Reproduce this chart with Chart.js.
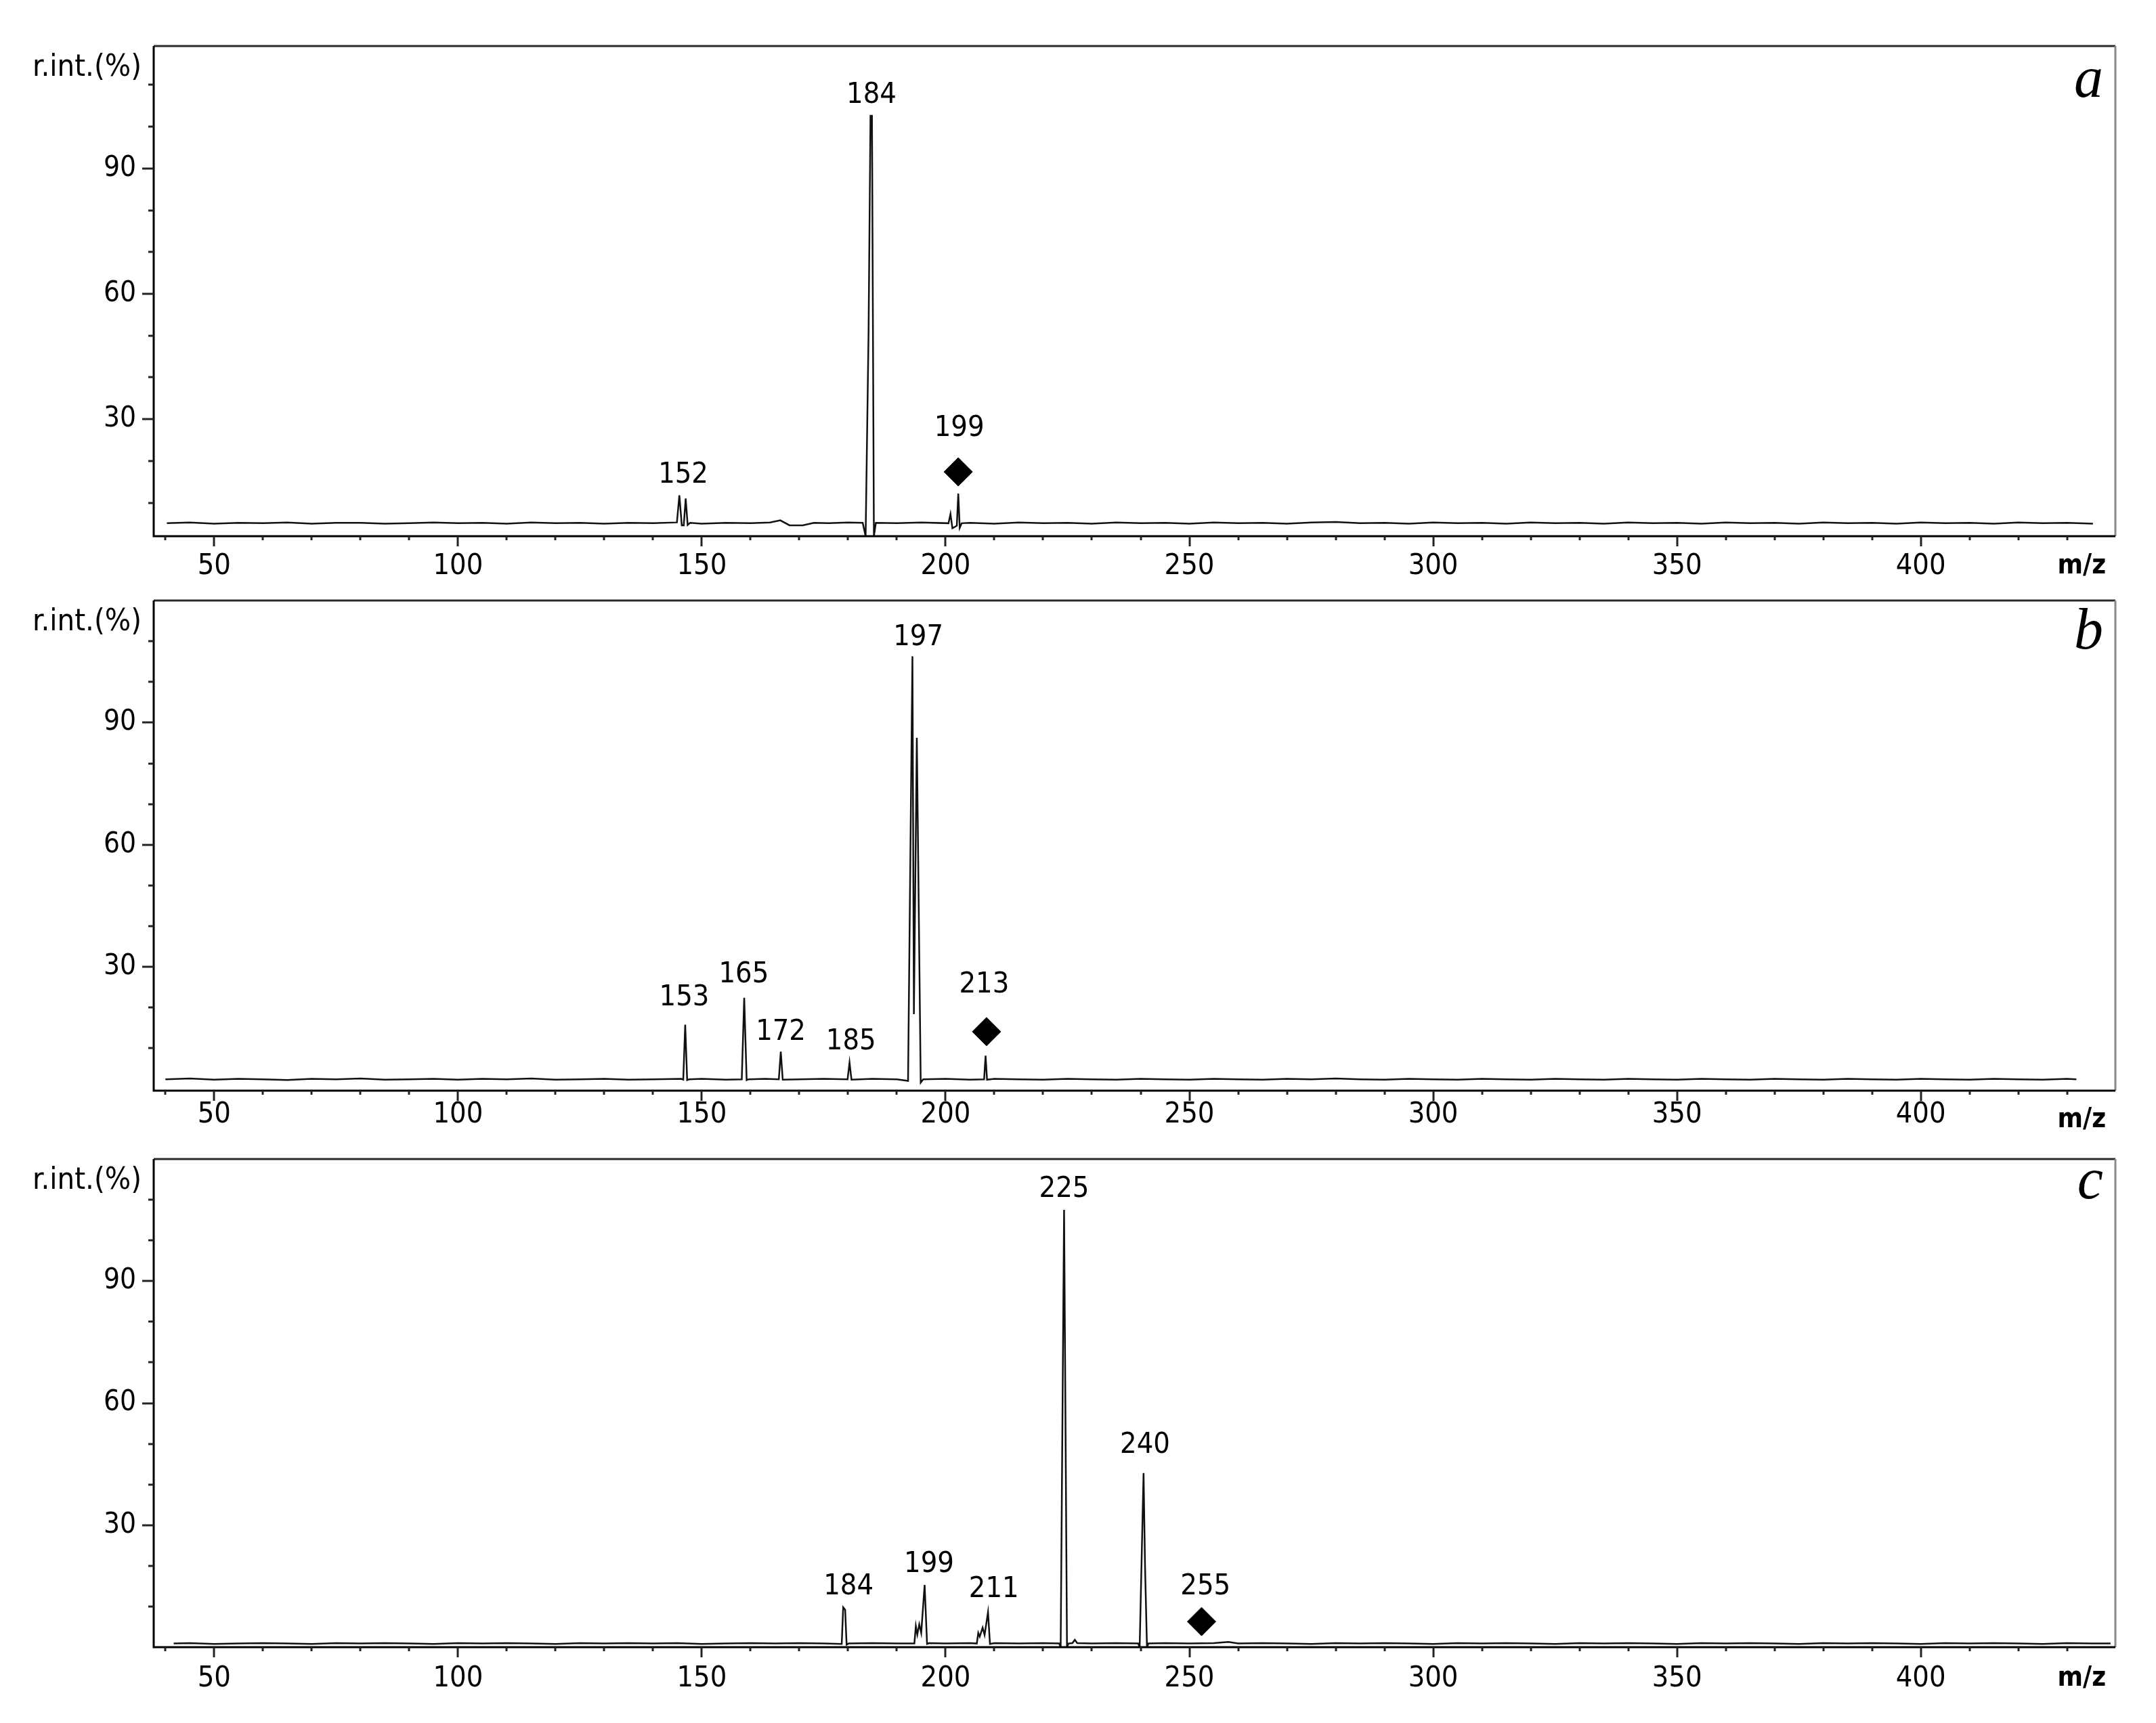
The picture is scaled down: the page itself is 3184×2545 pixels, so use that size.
<!DOCTYPE html>
<html>
<head>
<meta charset="utf-8">
<script src="https://cdn.jsdelivr.net/npm/chart.js@4.4.0/dist/chart.umd.min.js"></script>
<style>
html, body { margin: 0; padding: 0; background: #fff; }
#wrap { position: relative; width: 3184px; height: 2545px; }
canvas { position: absolute; left: 0; }
</style>
</head>
<body>
<div id="wrap">
<canvas id="pa" width="3184" height="855" style="top:0px"></canvas>
<canvas id="pb" width="3184" height="835" style="top:855px"></canvas>
<canvas id="pc" width="3184" height="855" style="top:1690px"></canvas>
</div>
<script>
// axis labels shared by all three spectra
const xTickLabels = [50, 100, 150, 200, 250, 300, 350, 400];
const yTickLabels = [30, 60, 90];

// spectrum a
const mzA = [40.3, 45, 50, 55, 60, 65, 70, 75, 80, 85,
  90, 95, 100, 105, 110, 115, 120, 125, 130, 135,
  140, 144.9, 145.4, 145.9, 146.3, 146.7, 147.1, 147.6, 150, 155,
  160, 164, 166.1, 168, 170.7, 173, 176, 180, 183.0, 183.6,
  184.2, 184.6, 184.9, 185.3, 185.7, 190, 195, 200.6, 201.0, 201.4,
  202.3, 202.6, 202.9, 203.3, 205, 210, 215, 220, 225, 230,
  235, 240, 245, 250, 255, 260, 265, 270, 275, 280,
  285, 290, 295, 300, 305, 310, 315, 320, 325, 330,
  335, 340, 345, 350, 355, 360, 365, 370, 375, 380,
  385, 390, 395, 400, 405, 410, 415, 420, 425, 430, 435.3];
const intA = [5.1, 5.3, 5.0, 5.2, 5.1, 5.3, 5.0, 5.2, 5.2, 5.0,
  5.1, 5.3, 5.1, 5.2, 5.0, 5.3, 5.1, 5.2, 5.0, 5.2,
  5.1, 5.3, 11.8, 4.6, 4.6, 11.0, 4.7, 5.2, 5.0, 5.2,
  5.1, 5.3, 5.8, 4.6, 4.6, 5.2, 5.1, 5.3, 5.2, 2.0,
  50.5, 102.6, 102.6, 2.0, 5.2, 5.1, 5.3, 5.1, 7.3, 3.9,
  4.5, 12.2, 4.0, 5.1, 5.2, 5.0, 5.3, 5.1, 5.2, 5.0,
  5.3, 5.1, 5.2, 5.0, 5.3, 5.1, 5.2, 5.0, 5.3, 5.4,
  5.1, 5.2, 5.0, 5.3, 5.1, 5.2, 5.0, 5.3, 5.1, 5.2,
  5.0, 5.3, 5.1, 5.2, 5.0, 5.3, 5.1, 5.2, 5.0, 5.3,
  5.1, 5.2, 5.0, 5.3, 5.1, 5.2, 5.0, 5.3, 5.1, 5.2, 5.0];
const peakTextA = ['152', '184', '199'];
const peakXA = [146.2, 184.8, 202.8];
const peakYA = [16.6, 107.5, 27.8];
const markXA = [202.6];
const markYA = [17.4];

// spectrum b
const mzB = [40, 45, 50, 55, 60, 65, 70, 75, 80, 85,
  90, 95, 100, 105, 110, 115, 120, 125, 130, 135,
  140, 145.8, 146.2, 146.6, 147.0, 147.4, 150, 155, 158.2, 158.7,
  159.2, 159.6, 163, 165.8, 166.2, 166.6, 170, 175, 179.9, 180.3,
  180.7, 185, 190, 192.3, 193.2, 193.5, 194.1, 194.9, 195.4, 200,
  205, 207.9, 208.2, 208.5, 210, 215, 220, 225, 230, 235,
  240, 245, 250, 255, 260, 265, 270, 275, 280, 285,
  290, 295, 300, 305, 310, 315, 320, 325, 330, 335,
  340, 345, 350, 355, 360, 365, 370, 375, 380, 385,
  390, 395, 400, 405, 410, 415, 420, 425, 430, 431.9];
const intB = [2.4, 2.6, 2.3, 2.5, 2.4, 2.2, 2.5, 2.4, 2.6, 2.3,
  2.4, 2.5, 2.3, 2.5, 2.4, 2.6, 2.3, 2.4, 2.5, 2.3,
  2.4, 2.5, 2.3, 15.8, 2.2, 2.4, 2.5, 2.3, 2.4, 22.4,
  2.2, 2.4, 2.5, 2.4, 9.2, 2.3, 2.4, 2.5, 2.4, 6.5,
  2.3, 2.5, 2.4, 2.0, 106.3, 18.4, 86.3, 1.6, 2.4, 2.5,
  2.3, 2.4, 8.2, 2.3, 2.5, 2.4, 2.3, 2.5, 2.4, 2.3,
  2.5, 2.4, 2.3, 2.5, 2.4, 2.3, 2.5, 2.4, 2.6, 2.4,
  2.3, 2.5, 2.4, 2.3, 2.5, 2.4, 2.3, 2.5, 2.4, 2.3,
  2.5, 2.4, 2.3, 2.5, 2.4, 2.3, 2.5, 2.4, 2.3, 2.5,
  2.4, 2.3, 2.5, 2.4, 2.3, 2.5, 2.4, 2.3, 2.5, 2.4];
const peakTextB = ['153', '165', '172', '185', '197', '213'];
const peakXB = [146.4, 158.6, 166.2, 180.6, 194.4, 207.9];
const peakYB = [22.4, 28.1, 14.0, 11.6, 110.8, 25.6];
const markXB = [208.4];
const markYB = [14.1];

// spectrum c
const mzC = [41.7, 45, 50, 55, 60, 65, 70, 75, 80, 85,
  90, 95, 100, 105, 110, 115, 120, 125, 130, 135,
  140, 145, 150, 155, 160, 165, 170, 175, 178.7, 179.0,
  179.4, 179.7, 180.1, 185, 190, 193.6, 193.9, 194.2, 194.6, 195.0,
  195.7, 196.2, 196.6, 200, 205, 206.4, 206.7, 207.0, 207.6, 208.0,
  208.7, 209.1, 210, 215, 220, 223.3, 223.6, 224.3, 224.9, 225.2,
  226.0, 226.5, 227.0, 230, 235, 239.5, 239.8, 240.6, 240.9, 241.3,
  241.6, 245, 250, 255, 258, 260, 265, 270, 275, 280,
  285, 290, 295, 300, 305, 310, 315, 320, 325, 330,
  335, 340, 345, 350, 355, 360, 365, 370, 375, 380,
  385, 390, 395, 400, 405, 410, 415, 420, 425, 430, 435, 438.9];
const intC = [0.9, 1.0, 0.8, 0.9, 1.0, 0.9, 0.8, 1.0, 0.9, 1.0,
  0.9, 0.8, 1.0, 0.9, 1.0, 0.9, 0.8, 1.0, 0.9, 1.0,
  0.9, 1.0, 0.8, 0.9, 1.0, 0.9, 1.0, 0.9, 0.8, 9.8,
  9.2, 0.6, 0.9, 1.0, 0.9, 0.9, 5.2, 3.1, 5.6, 3.5,
  15.3, 0.8, 1.0, 0.9, 1.0, 0.9, 3.5, 2.6, 4.8, 3.0,
  8.6, 0.8, 1.0, 0.9, 1.0, 0.9, 0.0, 107.5, 0.0, 0.9,
  1.0, 1.8, 1.0, 0.9, 1.0, 0.9, 0.0, 42.8, 20.0, 0.0,
  0.9, 1.0, 0.9, 1.0, 1.3, 0.9, 1.0, 0.9, 0.8, 1.0,
  0.9, 1.0, 0.9, 0.8, 1.0, 0.9, 1.0, 0.9, 0.8, 1.0,
  0.9, 1.0, 0.9, 0.8, 1.0, 0.9, 1.0, 0.9, 0.8, 1.0,
  0.9, 1.0, 0.9, 0.8, 1.0, 0.9, 1.0, 0.9, 0.8, 1.0, 0.9, 0.9];
const peakTextC = ['184', '199', '211', '225', '240', '255'];
const peakXC = [180.1, 196.6, 209.9, 224.3, 240.9, 253.3];
const peakYC = [14.9, 20.4, 14.2, 112.6, 49.6, 14.9];
const markXC = [252.5];
const markYC = [6.3];

const FONT = '"DejaVu Sans Condensed", "DejaVu Sans", sans-serif';

// frame, ticks and all the text around each spectrum
const framePlugin = {
  id: 'frame',
  afterDraw(chart, args, o) {
    const ctx = chart.ctx;
    const a = chart.chartArea;
    const xs = chart.scales.x, ys = chart.scales.y;
    ctx.save();
    ctx.lineWidth = 3;
    ctx.strokeStyle = '#2a2a2a';
    ctx.beginPath(); ctx.moveTo(a.left, a.top); ctx.lineTo(a.right, a.top); ctx.stroke();
    ctx.strokeStyle = '#8a8a8a';
    ctx.beginPath(); ctx.moveTo(a.right, a.top); ctx.lineTo(a.right, a.bottom); ctx.stroke();
    ctx.strokeStyle = '#000';
    ctx.beginPath(); ctx.moveTo(a.left, a.top); ctx.lineTo(a.left, a.bottom); ctx.lineTo(a.right, a.bottom); ctx.stroke();

    // x ticks
    ctx.lineWidth = 3;
    ctx.strokeStyle = '#222';
    for (let v = 40; v <= 430; v += 10) {
      const px = Math.round(xs.getPixelForValue(v));
      const len = v % 50 === 0 ? 15 : 6;
      ctx.beginPath(); ctx.moveTo(px, a.bottom); ctx.lineTo(px, a.bottom + len); ctx.stroke();
    }
    // y ticks
    for (let v = 10; v <= 110; v += 10) {
      const py = Math.round(ys.getPixelForValue(v));
      const len = v % 30 === 0 ? 17 : 8;
      ctx.beginPath(); ctx.moveTo(a.left - len, py); ctx.lineTo(a.left, py); ctx.stroke();
    }

    ctx.fillStyle = '#000';
    ctx.textBaseline = 'middle';
    ctx.textAlign = 'center';
    ctx.font = '43px ' + FONT;
    xTickLabels.forEach(v => ctx.fillText(String(v), xs.getPixelForValue(v), a.bottom + o.xGap));
    ctx.font = 'bold 40px ' + FONT;
    ctx.fillText('m/z', xs.getPixelForValue(433), a.bottom + o.mzGap);

    ctx.textAlign = 'right';
    ctx.font = '42px ' + FONT;
    yTickLabels.forEach(v => ctx.fillText(String(v), a.left - 26, ys.getPixelForValue(v)));
    ctx.font = '45px ' + FONT;
    ctx.fillText('r.int.(%)', a.left - 18, a.top + 32);

    ctx.textBaseline = 'alphabetic';
    ctx.font = 'italic 86px "Liberation Serif", serif';
    ctx.fillText(o.letter, a.right - 18, a.top + o.letterDy);

    // peak labels
    ctx.textAlign = 'center';
    ctx.textBaseline = 'middle';
    ctx.font = '43px ' + FONT;
    o.texts.forEach((t, i) => {
      ctx.fillText(t, xs.getPixelForValue(o.tx[i]), ys.getPixelForValue(o.ty[i]));
    });
    ctx.restore();
  }
};

function makePanel(id, mz, inten, markX, markY, yMin, yMax, pad, frameOpts) {
  const line = mz.map((v, i) => ({ x: v, y: inten[i] }));
  const marks = markX.map((v, i) => ({ x: v, y: markY[i] }));
  return new Chart(document.getElementById(id).getContext('2d'), {
    type: 'line',
    data: {
      datasets: [
        {
          data: line,
          borderColor: '#111',
          borderWidth: 2.5,
          pointRadius: 0,
          tension: 0,
          fill: false
        },
        {
          data: marks,
          showLine: false,
          pointStyle: 'rectRot',
          pointRadius: 21,
          backgroundColor: '#000',
          borderColor: '#000',
          borderWidth: 1
        }
      ]
    },
    options: {
      responsive: false,
      animation: false,
      devicePixelRatio: 1,
      layout: { padding: pad },
      plugins: {
        legend: { display: false },
        tooltip: { enabled: false },
        frame: frameOpts
      },
      scales: {
        x: { type: 'linear', min: 37.6, max: 439.9, display: false },
        y: { type: 'linear', min: yMin, max: yMax, display: false }
      }
    },
    plugins: [framePlugin]
  });
}

makePanel('pa', mzA, intA, markXA, markYA, 2.0, 119.3,
  { left: 227, right: 60, top: 68, bottom: 63 },
  { letter: 'a', letterDy: 75, xGap: 45, mzGap: 45, texts: peakTextA, tx: peakXA, ty: peakYA });
makePanel('pb', mzB, intB, markXB, markYB, -0.4, 120,
  { left: 227, right: 60, top: 32, bottom: 79 },
  { letter: 'b', letterDy: 71, xGap: 36, mzGap: 44, texts: peakTextB, tx: peakXB, ty: peakYB });
makePanel('pc', mzC, intC, markXC, markYC, 0, 120,
  { left: 227, right: 60, top: 20, bottom: 112 },
  { letter: 'c', letterDy: 58, xGap: 47, mzGap: 47, texts: peakTextC, tx: peakXC, ty: peakYC });
</script>
</body>
</html>
